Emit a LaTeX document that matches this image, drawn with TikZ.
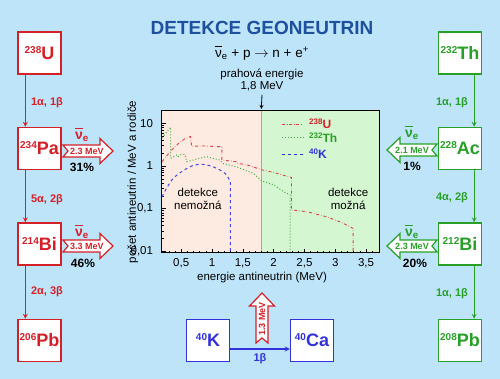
\documentclass[tikz,border=0pt]{standalone}
\usepackage{fontspec}
\setmainfont{Liberation Sans}
\usetikzlibrary{positioning}

\definecolor{bgblue}{RGB}{190,228,250}
\definecolor{titleblue}{RGB}{30,80,160}
\definecolor{ured}{RGB}{214,32,40}
\definecolor{thgreen}{RGB}{40,160,40}
\definecolor{kblue}{RGB}{50,50,220}
\definecolor{lowpink}{RGB}{253,234,224}
\definecolor{highgreen}{RGB}{212,246,208}
\definecolor{thrcyan}{RGB}{60,210,230}

\newcommand{\nuclide}[2]{\raisebox{6pt}{\fontsize{10}{10}\selectfont #1}#2}
\newcommand{\legnuclide}[2]{\raisebox{4pt}{\fontsize{8}{8}\selectfont #1}#2}
\newcommand{\antinu}{{\setbox0\hbox{ν}\rlap{\kern-0.03em\raisebox{1.45ex}{\rule{\dimexpr\wd0+0.06em\relax}{0.13ex}}}ν}\textsubscript{e}}

\tikzset{
  nucbox/.style={draw=#1, text=#1, fill=white, line width=1.4pt, minimum width=43pt,
    minimum height=42pt, inner sep=0pt, font=\fontsize{18}{18}\selectfont\bfseries},
  chain/.style={->, line width=1.2pt},
  decay/.style={font=\fontsize{11}{11}\selectfont\bfseries},
  share/.style={font=\fontsize{12}{12}\selectfont\bfseries},
  nulabel/.style={font=\fontsize{14}{14}\selectfont\bfseries},
  energy/.style={font=\fontsize{9}{9}\selectfont\bfseries},
  plottext/.style={font=\fontsize{11.5}{12.5}\selectfont, align=center},
  nuarrow/.pic={\path[pic actions] (0,6) -- (37,6) -- (37,12.5) -- (50,0)
    -- (37,-12.5) -- (37,-6) -- (0,-6) -- (5,0) -- cycle;}
}

\begin{document}
\begin{tikzpicture}[x=1pt, y=1pt, >=stealth]

% Background
\fill[bgblue] (0,0) rectangle (500,379);
\useasboundingbox (0,0) rectangle (500,379);

% Title and reaction
\node[font=\fontsize{19}{19}\selectfont\bfseries, text=titleblue] (title) at (262,351) {DETEKCE GEONEUTRIN};
\node[font=\fontsize{13.5}{14}\selectfont] (reaction) at (262,326) {\antinu{} + p $\rightarrow$ n + e\textsuperscript{+}};
\node[plottext] (thr) at (262,299) {prahová energie\\1,8 MeV};
\coordinate (thrtop) at (261.3,270);
\draw[->, line width=0.8pt] (thr.south) -- (thrtop);

% Uranium chain
\node[nucbox=ured] (u238) at (39.5,326) {\nuclide{238}{U}};
\node[nucbox=ured] (pa234) at (39.5,230.5) {\nuclide{234}{Pa}};
\node[nucbox=ured] (bi214) at (39.5,135) {\nuclide{214}{Bi}};
\node[nucbox=ured] (pb206) at (39.5,38.5) {\nuclide{206}{Pb}};
\draw[chain, ured] ([xshift=8pt]u238.south west) -- ([xshift=8pt]pa234.north west);
\draw[chain, ured] ([xshift=8pt]pa234.south west) -- ([xshift=8pt]bi214.north west);
\draw[chain, ured] ([xshift=8pt]bi214.south west) -- ([xshift=8pt]pb206.north west);
\node[decay, ured] (ustep1) at (47,276) {1α, 1β};
\node[decay, ured] (ustep2) at (47,179) {5α, 2β};
\node[decay, ured] (ustep3) at (47,87) {2α, 3β};

% Thorium chain
\node[nucbox=thgreen] (th232) at (460,326) {\nuclide{232}{Th}};
\node[nucbox=thgreen] (ac228) at (460,230.5) {\nuclide{228}{Ac}};
\node[nucbox=thgreen] (bi212) at (460,135) {\nuclide{212}{Bi}};
\node[nucbox=thgreen] (pb208) at (460,38.5) {\nuclide{208}{Pb}};
\draw[chain, thgreen] ([xshift=-8pt]th232.south east) -- ([xshift=-8pt]ac228.north east);
\draw[chain, thgreen] ([xshift=-8pt]ac228.south east) -- ([xshift=-8pt]bi212.north east);
\draw[chain, thgreen] ([xshift=-8pt]bi212.south east) -- ([xshift=-8pt]pb208.north east);
\node[decay, thgreen] (thstep1) at (452,276) {1α, 1β};
\node[decay, thgreen] (thstep2) at (452,181) {4α, 2β};
\node[decay, thgreen] (thstep3) at (452,85) {1α, 1β};

% Potassium
\node[nucbox=kblue] (k40) at (208,38.5) {\nuclide{40}{K}};
\node[nucbox=kblue] (ca40) at (312,38.5) {\nuclide{40}{Ca}};
\draw[chain, kblue] ([yshift=-8.5pt]k40.east) -- ([yshift=-8.5pt]ca40.west);
\node[decay, kblue] (kstep) at (260,20) {1β};

% Antineutrino arrows
\pic[draw=ured, fill=white, line width=1.2pt] at (63,228) {nuarrow};
\node[energy, ured] (pae) at (87,228) {2.3 MeV};
\node[nulabel, ured] (panu) at (82,244) {\antinu};
\node[share] (pashare) at (82,212) {31\%};

\pic[draw=ured, fill=white, line width=1.2pt] at (63,133) {nuarrow};
\node[energy, ured] (bie) at (87,133) {3.3 MeV};
\node[nulabel, ured] (binu) at (82,147) {\antinu};
\node[share] (bishare) at (83,116) {46\%};

\pic[draw=thgreen, fill=white, line width=1.2pt, xscale=-1] at (437,229) {nuarrow};
\node[energy, thgreen] (ace) at (412,229) {2.1 MeV};
\node[nulabel, thgreen] (acnu) at (412,246) {\antinu};
\node[share] (acshare) at (412,213) {1\%};

\pic[draw=thgreen, fill=white, line width=1.2pt, xscale=-1] at (437,133) {nuarrow};
\node[energy, thgreen] (bite) at (412,133) {2.3 MeV};
\node[nulabel, thgreen] (bitnu) at (412,147) {\antinu};
\node[share] (bitshare) at (415,116) {20\%};

\pic[draw=ured, fill=white, line width=1.2pt, rotate=90] at (262,36) {nuarrow};
\node[energy, ured, rotate=90] (ke) at (262,60) {1.3 MeV};

% Spectrum plot (E in MeV, log10 of rate)
\begin{scope}[shift={(150.4,213)}, x=61.6pt, y=42.7pt]
  \fill[lowpink] (0.188,-2.037) rectangle (1.8,1.311);
  \fill[highgreen] (1.8,-2.037) rectangle (3.711,1.311);
  \draw[thrcyan, line width=1.5pt] (1.8,-2.037) -- (1.8,1.311);

  % ticks
  \foreach \e in {0.5,1,...,3.5}
    \draw[line width=0.5pt] (\e,-2.037) -- ++(0,0.09);
  \foreach \e in {0.2,0.3,...,3.7}
    \draw[line width=0.4pt] (\e,-2.037) -- ++(0,0.05);
  \foreach \d in {-2,-1,0}
    \foreach \m in {2,...,9}
      \draw[line width=0.4pt] (0.188,{\d+log10(\m)}) -- ++(0.04,0);
  \foreach \d in {-2,-1,0,1}
    \draw[line width=0.5pt] (0.188,\d) -- ++(0.07,0);

  % spectra
  \draw[kblue!90, dashed, line width=1pt] plot[smooth] coordinates
    {(0.188,-0.72) (0.37,-0.29) (0.64,-0.02) (0.83,0.04) (1.02,-0.02) (1.21,-0.17) (1.30,-0.37)}
    -- (1.30,-2.037);
  \draw[ured!85, dash dot, line width=0.9pt] plot[smooth] coordinates
    {(0.188,0.10) (0.37,0.41) (0.53,0.61) (0.65,0.69)}
    -- (0.67,0.46) -- (0.85,0.47) -- (1.0,0.46) -- (1.16,0.45) -- (1.16,0.14)
    -- (1.40,0.10) -- (1.42,0.06) -- (1.56,0.03) -- (1.81,-0.09) -- (2.0,-0.15)
    -- (2.29,-0.27) -- (2.29,-1.03) -- (2.54,-1.07) -- (2.86,-1.19) -- (3.10,-1.32)
    -- (3.29,-1.46) -- (3.29,-2.037);
  \draw[thgreen!85, dotted, line width=1pt] (0.188,0.66) -- (0.33,0.91) -- (0.33,0.18)
    -- (0.43,0.26) -- (0.45,0.22) -- (0.50,0.27) -- (0.56,0.27) -- (0.59,0.10)
    -- (0.75,0.16) -- (0.91,0.22) -- (1.0,0.18) -- (1.13,0.14) -- (1.17,0.06)
    -- (1.40,-0.02) -- (1.67,-0.17) -- (1.81,-0.35) -- (2.0,-0.44) -- (2.16,-0.60)
    -- (2.27,-0.68) -- (2.27,-2.037);

  \draw[line width=1pt] (0.188,-2.037) rectangle (3.711,1.311);

  % legend
  \draw[ured!85, dash dot, line width=0.9pt] (2.13,0.98) -- (2.48,0.98);
  \node[anchor=west, text=ured, font=\fontsize{12}{12}\selectfont\bfseries] (legu) at (2.52,0.98) {\legnuclide{238}{U}};
  \draw[thgreen!85, dotted, line width=1pt] (2.13,0.66) -- (2.48,0.66);
  \node[anchor=west, text=thgreen, font=\fontsize{12}{12}\selectfont\bfseries] (legth) at (2.52,0.66) {\legnuclide{232}{Th}};
  \draw[kblue, dashed, line width=1pt] (2.13,0.28) -- (2.48,0.28);
  \node[anchor=west, text=kblue, font=\fontsize{12}{12}\selectfont\bfseries] (legk) at (2.52,0.28) {\legnuclide{40}{K}};

  % regions
  \node[plottext] (nodet) at (0.77,-0.77) {detekce\\nemožná};
  \node[plottext] (det) at (3.21,-0.77) {detekce\\možná};

  % tick labels
  \foreach \e/\t in {0.5/{0,5},1/1,1.5/{1,5},2/2,2.5/{2,5},3/3,3.5/{3,5}}
    \node[plottext] at (\e,-2.27) {\t};
  \foreach \d/\t in {1/10,0/1,-1/{0,1},-2/{0,01}}
    \node[plottext, anchor=east] at (0.1,\d) {\t};
\end{scope}

% Axis titles
\node[plottext] (xtitle) at (262,101) {energie antineutrin (MeV)};
\node[plottext, rotate=90] (ytitle) at (133,197) {počet antineutrin / MeV a rodiče};

\end{tikzpicture}
\end{document}
